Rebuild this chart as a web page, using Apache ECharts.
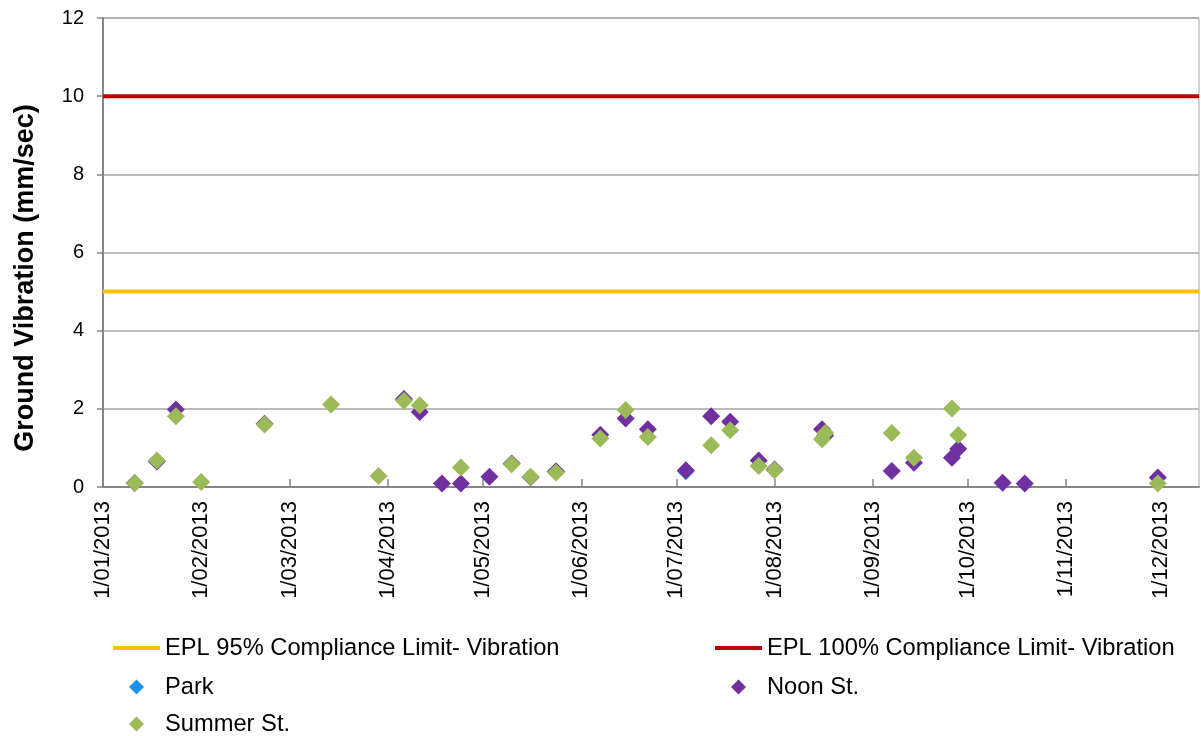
<!DOCTYPE html>
<html>
<head>
<meta charset="utf-8">
<title>Ground Vibration 2013</title>
<script src="https://cdn.jsdelivr.net/npm/echarts@6/dist/echarts.min.js"></script>
<style>
  html, body { margin: 0; padding: 0; background: #fff; }
  #chart { width: 1201px; height: 736px; }
</style>
</head>
<body>
<div id="chart"></div>
<script>
// Ground vibration readings for 2013 at three sites, against the two EPL limits.
// x axis is a value axis in days since X_MIN so month ticks can be placed exactly.
const FONT = '"Liberation Sans", Arial, sans-serif';

const X_MIN = '2013-01-01';
const X_MAX = '2013-12-13';
const MONTH_TICKS = [
  '2013-01-01', '2013-02-01', '2013-03-01', '2013-04-01', '2013-05-01', '2013-06-01',
  '2013-07-01', '2013-08-01', '2013-09-01', '2013-10-01', '2013-11-01', '2013-12-01',
];

const NAME_95 = 'EPL 95% Compliance Limit- Vibration';
const NAME_100 = 'EPL 100% Compliance Limit- Vibration';
const LIMIT_95 = 5;
const LIMIT_100 = 10;

const parkDates = ['2013-07-04'];
const parkValues = [0.40];

const noonDates = [
  '2013-01-11', '2013-01-18', '2013-01-24', '2013-02-21', '2013-04-06', '2013-04-11',
  '2013-04-18', '2013-04-24', '2013-05-03', '2013-05-10', '2013-05-16', '2013-05-24',
  '2013-06-07', '2013-06-15', '2013-06-22', '2013-07-04', '2013-07-12', '2013-07-18',
  '2013-07-27', '2013-08-01', '2013-08-16', '2013-08-17', '2013-09-07', '2013-09-14',
  '2013-09-26', '2013-09-28', '2013-10-12', '2013-10-19', '2013-11-30',
];
const noonValues = [
  0.10, 0.65, 1.98, 1.62, 2.25, 1.92,
  0.09, 0.09, 0.26, 0.60, 0.25, 0.40,
  1.34, 1.75, 1.48, 0.43, 1.81, 1.67,
  0.68, 0.45, 1.48, 1.32, 0.41, 0.62,
  0.75, 0.98, 0.11, 0.09, 0.24,
];

const summerDates = [
  '2013-01-11', '2013-01-18', '2013-01-24', '2013-02-01', '2013-02-21', '2013-03-14',
  '2013-03-29', '2013-04-06', '2013-04-11', '2013-04-24', '2013-05-10', '2013-05-16',
  '2013-05-24', '2013-06-07', '2013-06-15', '2013-06-22', '2013-07-12', '2013-07-18',
  '2013-07-27', '2013-08-01', '2013-08-16', '2013-08-17', '2013-09-07', '2013-09-14',
  '2013-09-26', '2013-09-28', '2013-11-30',
];
const summerValues = [
  0.10, 0.68, 1.81, 0.13, 1.60, 2.11,
  0.28, 2.21, 2.09, 0.50, 0.58, 0.26,
  0.37, 1.24, 1.97, 1.28, 1.07, 1.45,
  0.54, 0.43, 1.22, 1.38, 1.38, 0.75,
  2.01, 1.33, 0.09,
];

const DAY = 86400000;
const utc = (s) => {
  const [y, m, d] = s.split('-').map(Number);
  return Date.UTC(y, m - 1, d);
};
const ORIGIN = utc(X_MIN);
const dayOf = (s) => Math.round((utc(s) - ORIGIN) / DAY);
const points = (dates, values) => dates.map((d, i) => [dayOf(d), values[i]]);
const flat = (v) => [[dayOf(X_MIN), v], [dayOf(X_MAX), v]];
const fmtDay = (v) => {
  const d = new Date(ORIGIN + v * DAY);
  return `${d.getUTCDate()}/${String(d.getUTCMonth() + 1).padStart(2, '0')}/${d.getUTCFullYear()}`;
};

const monthTicks = MONTH_TICKS.map(dayOf);
const LINE_ICON = 'path://M0,0H47V4H0Z';
const DIAMOND_ICON = 'path://M0,-1L1,0L0,1L-1,0Z';

const legendBase = {
  orient: 'horizontal', padding: 0, itemWidth: 47, itemHeight: 15, selectedMode: false,
  textStyle: { fontSize: 23.7, color: '#000', fontFamily: FONT, lineHeight: 24 },
};

function scatter(name, dates, values, color) {
  return {
    name, type: 'scatter', symbol: 'diamond', symbolSize: 18,
    data: points(dates, values),
    color, itemStyle: { color, opacity: 1 },
  };
}

function limitLine(name, value, color) {
  return {
    name, type: 'line', symbol: 'none', silent: true,
    data: flat(value),
    color, lineStyle: { color, width: 4 },
  };
}

const chart = echarts.init(document.getElementById('chart'));
chart.setOption({
  animation: false,
  backgroundColor: '#fff',
  textStyle: { fontFamily: FONT },
  grid: {
    left: 103, right: 2, top: 18, bottom: 249,
    show: true, borderColor: '#a6a6a6', borderWidth: 1,
  },
  xAxis: {
    type: 'value', min: dayOf(X_MIN), max: dayOf(X_MAX),
    axisLine: { lineStyle: { color: '#868686', width: 2 } },
    axisTick: {
      show: true, inside: true, length: 8, customValues: monthTicks,
      lineStyle: { color: '#868686', width: 1.5 },
    },
    axisLabel: {
      customValues: monthTicks, rotate: 90, margin: 14,
      fontSize: 22, color: '#000', fontFamily: FONT, formatter: fmtDay,
    },
    splitLine: { show: false },
  },
  yAxis: {
    type: 'value', min: 0, max: 12, interval: 2,
    axisLine: { show: true, lineStyle: { color: '#868686', width: 2 } },
    axisTick: { show: true, length: 6, lineStyle: { color: '#868686', width: 1.5 } },
    axisLabel: { fontSize: 20, color: '#000', fontFamily: FONT, margin: 19 },
    splitLine: { lineStyle: { color: '#a6a6a6', width: 1.5 } },
  },
  graphic: [{
    type: 'text', x: 26, y: 278, rotation: Math.PI / 2,
    style: {
      text: 'Ground Vibration (mm/sec)', fill: '#000',
      font: `bold 27px ${FONT}`, align: 'center', verticalAlign: 'middle',
    },
  }],
  // diamond icons sit centred in a 47px box; the legend aligns on the drawn shape,
  // so those legends start 16px further right
  legend: [
    { ...legendBase, left: 113, top: 636, data: [{ name: NAME_95, icon: LINE_ICON }] },
    { ...legendBase, left: 715, top: 636, data: [{ name: NAME_100, icon: LINE_ICON }] },
    { ...legendBase, left: 129, top: 675, data: [{ name: 'Park', icon: DIAMOND_ICON }] },
    { ...legendBase, left: 731, top: 675, data: [{ name: 'Noon St.', icon: DIAMOND_ICON }] },
    { ...legendBase, left: 129, top: 712, data: [{ name: 'Summer St.', icon: DIAMOND_ICON }] },
  ],
  series: [
    limitLine(NAME_95, LIMIT_95, '#ffc000'),
    limitLine(NAME_100, LIMIT_100, '#c00000'),
    scatter('Park', parkDates, parkValues, '#1f94e6'),
    scatter('Noon St.', noonDates, noonValues, '#7030a0'),
    scatter('Summer St.', summerDates, summerValues, '#9bbb59'),
  ],
});
</script>
</body>
</html>
